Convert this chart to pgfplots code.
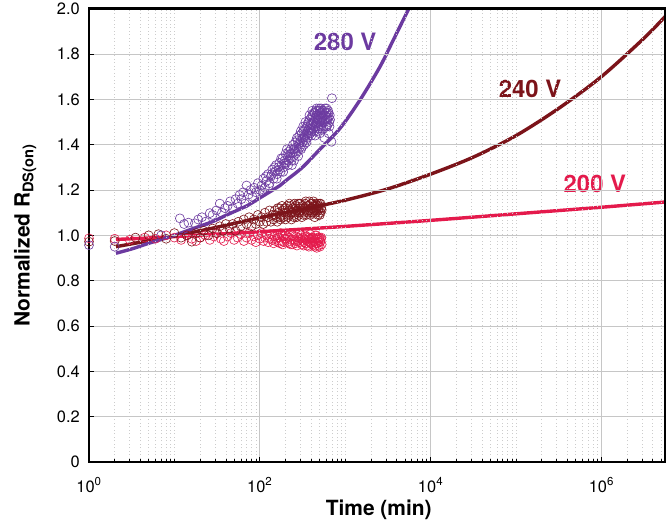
\documentclass[border=0pt]{standalone}
\usepackage{fontspec}
\setmainfont{TeX Gyre Heros}
\usepackage{pgfplots}
\pgfplotsset{compat=1.18}
\definecolor{cpurple}{RGB}{108,58,160}
\definecolor{cdred}{RGB}{124,20,26}
\definecolor{ccrim}{RGB}{228,26,76}
\begin{document}
\begin{tikzpicture}
\begin{axis}[
  scale only axis, width=576bp, height=453.3bp,
  xmode=log, xmin=1, xmax=5.56e6, ymin=0, ymax=2,
  xtick={1,100,10000,1000000},
  xticklabels={10\textsuperscript{0},10\textsuperscript{2},10\textsuperscript{4},10\textsuperscript{6}},
  minor xtick={2,3,4,5,6,7,8,9,10,20,30,40,50,60,70,80,90,200,300,400,500,600,700,800,900,1000,2000,3000,4000,5000,6000,7000,8000,9000,20000,30000,40000,50000,60000,70000,80000,90000,100000,200000,300000,400000,500000,600000,700000,800000,900000,2000000,3000000,4000000,5000000},
  ytick={0,0.2,0.4,0.6,0.8,1.0,1.2,1.4,1.6,1.8,2.0},
  yticklabels={0,0.2,0.4,0.6,0.8,1.0,1.2,1.4,1.6,1.8,2.0},
  grid=both,
  major grid style={gray!45, line width=0.8bp},
  minor grid style={gray!40, line width=0.6bp, dash pattern=on 0.7bp off 2.8bp},
  tick align=inside, tick pos=left,
  major tick length=5bp, minor tick length=3bp,
  tick style={black, line width=0.6bp},
  axis line style={line width=2.4bp},
  axis on top,
  ticklabel style={font=\fontsize{16.5}{16.5}\selectfont},
  xticklabel style={anchor=base, yshift=-30bp},
  yticklabel style={anchor=east, inner sep=0pt, xshift=-9bp},
  xlabel={Time (min)},
  ylabel={Normalized R\textsubscript{DS(on)}},
  xlabel style={font=\fontsize{21}{21}\selectfont\bfseries, at={(axis description cs:0.503,-0.119)}, anchor=base},
  ylabel style={font=\fontsize{21}{21}\selectfont\bfseries, at={(axis description cs:-0.111,0.5)}, anchor=center},
]
% 200 V scatter
\addplot[only marks, mark=o, mark size=4.5bp, ccrim, mark options={line width=0.6bp}] coordinates {
(1,0.987) (2,0.985) (3,0.98) (4.5,0.99) (6,0.985) (8,1.0) (10,0.99) (12,0.98) (14,1.0) (16,0.985) (18,0.975) (20,0.99) (23,1.0) (26,0.98) (29,0.995) (32,1.01) (35,0.985) (38,0.975) (42,0.995) (46,1.01) (50,0.98) (55,0.99) (60,1.005) (65,0.975) (70,0.99) (75,1.01) (80,0.98) (85,0.995) (90,0.97) (95,1.0) (100,0.985) (105,1.01) (110,0.975) (115,0.99) (120,1.0) (125,0.97) (130,0.985) (135,1.005) (140,0.98) (145,0.965) (150,0.995) (155,0.985) (160,1.0) (165,0.97) (170,0.99) (175,1.01) (180,0.975) (185,0.96) (190,0.995) (195,0.985) (200,1.005) (210,0.97) (220,0.99) (230,0.96) (240,1.0) (250,0.98) (260,0.965) (270,0.995) (280,0.975) (290,1.01) (300,0.985) (310,0.96) (320,0.99) (330,0.97) (340,1.0) (350,0.98) (360,0.955) (370,0.99) (380,0.97) (390,1.005) (400,0.985) (410,0.96) (420,0.99) (430,0.975) (440,0.95) (450,0.985) (460,1.0) (470,0.965) (480,0.98) (490,0.955) (500,0.99) (510,0.97) (520,0.985) (530,0.96)
(152,0.975) (162,0.99) (172,0.965) (182,1.0) (192,0.97) (202,0.985) (212,0.995) (222,0.965) (232,0.98) (242,0.96) (252,0.995) (262,0.975) (272,0.955) (282,0.99) (292,0.97) (305,1.0) (315,0.975) (325,0.955) (335,0.985) (345,0.965) (355,0.995) (365,0.975) (375,0.95) (385,0.985) (395,0.965) (405,0.99) (415,0.97) (425,0.955) (435,0.985) (445,1.0) (455,0.965) (465,0.945) (475,0.99) (485,0.97) (495,0.985) (505,0.95) (515,0.975) (525,0.99)
};
% 240 V scatter
\addplot[only marks, mark=o, mark size=4.5bp, cdred, mark options={line width=0.6bp}] coordinates {
(1,0.972) (2,0.975) (3.5,0.99) (5,1.0) (6.5,1.005) (8,0.985) (10,1.01) (12,0.99) (14,1.0) (16,0.972) (18,1.01) (20,0.99) (22,1.02) (25,1.0) (28,1.03) (31,1.01) (34,1.04) (37,1.02) (40,1.05) (44,1.03) (48,1.05) (52,1.02) (56,1.06) (60,1.04) (65,1.07) (70,1.05) (75,1.08) (80,1.04) (85,1.07) (90,1.05) (95,1.09) (100,1.06) (105,1.08) (110,1.05) (115,1.10) (120,1.06) (125,1.08) (130,1.11) (135,1.06) (140,1.09) (145,1.07) (150,1.11) (155,1.08) (160,1.06) (165,1.10) (170,1.12) (175,1.07) (180,1.09) (185,1.11) (190,1.08) (195,1.12) (200,1.07) (205,1.10) (210,1.13) (215,1.08) (220,1.11) (225,1.09) (230,1.13) (235,1.07) (240,1.10) (245,1.12) (250,1.08) (255,1.14) (260,1.10) (265,1.12) (270,1.08) (275,1.11) (280,1.14) (285,1.09) (290,1.12) (295,1.10) (300,1.14) (310,1.08) (320,1.12) (330,1.10) (340,1.14) (350,1.09) (360,1.13) (370,1.11) (380,1.15) (390,1.09) (400,1.12) (410,1.14) (420,1.10) (430,1.13) (440,1.08) (450,1.14) (460,1.11) (470,1.13) (480,1.09) (490,1.12) (500,1.14) (510,1.10) (520,1.12) (530,1.11)
(152,1.09) (162,1.12) (172,1.08) (182,1.13) (192,1.10) (202,1.12) (212,1.09) (222,1.14) (232,1.10) (242,1.12) (252,1.09) (262,1.13) (272,1.11) (282,1.10) (292,1.14) (305,1.11) (315,1.13) (325,1.09) (335,1.12) (345,1.15) (355,1.11) (365,1.10) (375,1.13) (385,1.11) (395,1.14) (405,1.10) (415,1.12) (425,1.15) (435,1.11) (445,1.13) (455,1.10) (465,1.12) (475,1.14) (485,1.11) (495,1.13) (505,1.09) (515,1.14) (525,1.12)
};
% 280 V scatter
\addplot[only marks, mark=o, mark size=4.5bp, cpurple, mark options={line width=0.6bp}] coordinates {
(1,0.957) (2,0.95) (7,1.0) (11.6,1.075) (13,1.05) (14.6,1.056) (17.4,1.053) (19,1.07) (21,1.08) (23,1.06) (26,1.098) (28,1.09) (31,1.11) (34,1.14) (36,1.10) (39,1.12) (42,1.13) (45,1.15) (48,1.12) (52,1.16) (55,1.14) (58,1.178) (61,1.16) (64,1.19) (67,1.14) (70,1.22) (74,1.18) (78,1.20) (82,1.17) (86,1.21) (90,1.19) (95,1.23) (100,1.20) (105,1.22) (110,1.25) (115,1.21) (120,1.24) (125,1.27) (130,1.23) (135,1.26) (140,1.29) (145,1.25) (150,1.28) (155,1.31) (160,1.27) (165,1.30) (170,1.32) (175,1.28) (180,1.31) (185,1.34) (190,1.30) (195,1.33) (200,1.36) (205,1.32) (210,1.35) (215,1.31) (220,1.37) (225,1.34) (230,1.38) (235,1.33) (240,1.36) (245,1.40) (250,1.35) (255,1.38) (260,1.41) (265,1.36) (270,1.39) (275,1.42) (280,1.37) (285,1.40) (290,1.44) (295,1.39) (300,1.42) (305,1.38) (310,1.45) (315,1.41) (320,1.43) (325,1.46) (330,1.40) (335,1.44) (340,1.47) (345,1.42) (350,1.45) (355,1.48) (360,1.43) (365,1.46) (370,1.50) (375,1.44) (380,1.47) (385,1.51) (390,1.45) (395,1.49) (400,1.52) (405,1.46) (410,1.49) (415,1.53) (420,1.47) (425,1.50) (430,1.54) (435,1.48) (440,1.51) (445,1.44) (450,1.52) (455,1.55) (460,1.49) (465,1.53) (470,1.46) (475,1.51) (480,1.55) (485,1.48) (490,1.53) (495,1.56) (500,1.50) (505,1.45) (510,1.54) (515,1.49) (520,1.56) (525,1.52) (530,1.47) (540,1.55) (550,1.50) (560,1.53) (570,1.43) (580,1.56) (590,1.51) (600,1.54) (610,1.48) (620,1.52) (630,1.55) (640,1.45) (650,1.50) (660,1.53) (700,1.605) (690,1.413)
(108,1.19) (118,1.26) (128,1.22) (138,1.27) (148,1.30) (158,1.25) (168,1.29) (178,1.34) (188,1.28) (198,1.32) (208,1.38) (218,1.33) (228,1.36) (238,1.31) (248,1.38)
(252,1.33) (262,1.37) (272,1.43) (282,1.35) (292,1.41) (302,1.46) (312,1.39) (322,1.48) (332,1.43) (342,1.50) (352,1.41) (362,1.49) (372,1.45) (382,1.53) (392,1.47) (402,1.44) (412,1.55) (422,1.50) (432,1.46) (442,1.54) (452,1.48) (462,1.56) (472,1.50) (482,1.52) (492,1.47) (502,1.55) (512,1.51) (522,1.48) (532,1.54) (545,1.52) (555,1.47) (565,1.55) (575,1.50) (585,1.53) (595,1.48) (605,1.56) (615,1.51) (625,1.49) (635,1.54) (645,1.52) (655,1.48) (665,1.51)
};
% fitted lines
\addplot[cdred, line width=3.4bp, smooth] coordinates {
(2.07,0.95) (10,0.997) (31.6,1.036) (100,1.078) (316,1.115) (1000,1.155) (3160,1.205) (10000,1.27) (31600,1.345) (100000,1.44) (316000,1.56) (1000000,1.70) (3160000,1.87) (5560000,1.965)
};
\addplot[ccrim, line width=3.4bp, smooth] coordinates {
(2.07,0.982) (6.78,0.991) (100,1.016) (869,1.038) (9840,1.066) (100000,1.095) (1000000,1.124) (5560000,1.147)
};
\addplot[cpurple, line width=3.4bp, smooth] coordinates {
(2.07,0.921) (3.16,0.94) (4.74,0.962) (6.78,0.98) (10,1.0) (16.6,1.03) (28.6,1.062) (41,1.09) (70.3,1.13) (100,1.165) (172.5,1.22) (206,1.244) (316,1.30) (507,1.38) (869,1.472) (1490,1.597) (2555,1.744) (3660,1.862) (5560,2.0)
};
\node[font=\fontsize{24}{24}\selectfont\bfseries, text=cpurple] at (axis cs:1000,1.853) {280 V};
\node[font=\fontsize{24}{24}\selectfont\bfseries, text=cdred] at (axis cs:146000,1.647) {240 V};
\node[font=\fontsize{24}{24}\selectfont\bfseries, text=ccrim] at (axis cs:840000,1.228) {200 V};
\end{axis}
\pgfresetboundingbox
\path[use as bounding box] (-89bp,-61bp) rectangle (580bp,462bp);
\end{tikzpicture}
\end{document}
